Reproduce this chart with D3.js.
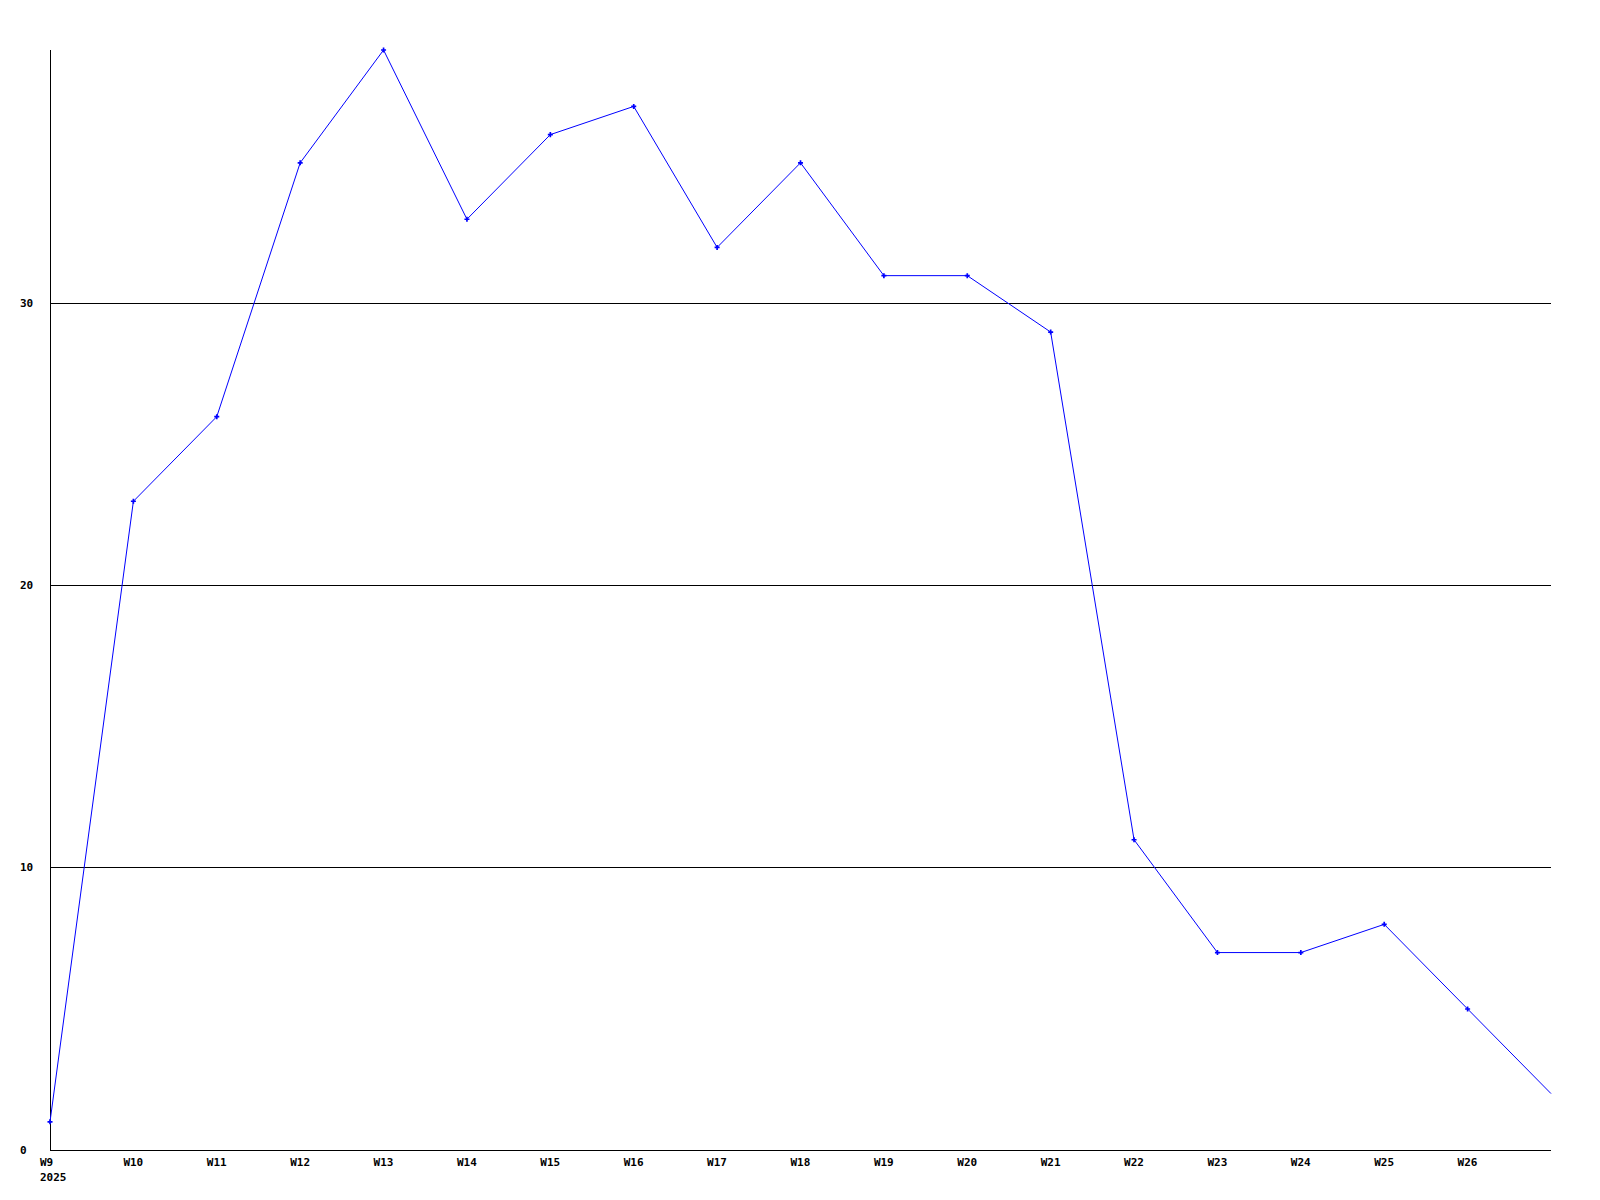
<!DOCTYPE html>
<html><head><meta charset="utf-8">
<script src="https://cdn.jsdelivr.net/npm/d3@7"></script>
<style>body{margin:0;background:#fff}svg{display:block}</style>
</head><body>
<script>
const weeks = ["W9","W10","W11","W12","W13","W14","W15","W16","W17","W18","W19","W20","W21","W22","W23","W24","W25","W26","W27"];
const values = [1,23,26,35,39,33,36,37,32,35,31,31,29,11,7,7,8,5,2];
const shownLabels = ["W9","W10","W11","W12","W13","W14","W15","W16","W17","W18","W19","W20","W21","W22","W23","W24","W25","W26"];
const yearLabel = "2025";
const yTicks = [0,10,20,30];

(function(){
const W=1600,H=1200;
const svg=d3.select("body").append("svg").attr("width",W).attr("height",H);
const mLeft=50,mRight=1551,mTop=50,mBottom=1150;
const x=d3.scalePoint().domain(weeks).range([mLeft,mRight]);
const y=d3.scaleLinear().domain([0,39]).range([mBottom,mTop]);
const font="'DejaVu Sans Mono', monospace";

// grid lines
svg.append("g").selectAll("line").data(yTicks.filter(d=>d>0)).join("line")
  .attr("x1",mLeft).attr("x2",mRight).attr("y1",d=>Math.floor(y(d))+0.5).attr("y2",d=>Math.floor(y(d))+0.5)
  .attr("stroke","#000").attr("stroke-width",1);
// axes
svg.append("line").attr("x1",mLeft+0.5).attr("x2",mLeft+0.5).attr("y1",mTop).attr("y2",mBottom).attr("stroke","#000");
svg.append("line").attr("x1",mLeft).attr("x2",mRight).attr("y1",mBottom+0.5).attr("y2",mBottom+0.5).attr("stroke","#000");

// y labels
svg.append("g").selectAll("text").data(yTicks).join("text")
  .attr("x",20).attr("y",d=>Math.floor(y(d))+4)
  .attr("font-family",font).attr("font-size",11).attr("font-weight","bold")
  .text(d=>d);
// x labels
svg.append("g").selectAll("text").data(shownLabels).join("text")
  .attr("x",d=>x(d)-10).attr("y",mBottom+16)
  .attr("font-family",font).attr("font-size",11).attr("font-weight","bold")
  .text(d=>d);
svg.append("text").attr("x",x(weeks[0])-10).attr("y",mBottom+31)
  .attr("font-family",font).attr("font-size",11).attr("font-weight","bold").text(yearLabel);

// line
const line=d3.line().x((d,i)=>x(weeks[i])).y(d=>y(d));
svg.append("path").datum(values).attr("d",line).attr("fill","none").attr("stroke","#0000ff").attr("stroke-width",1);
svg.append("g").selectAll("path").data(values.slice(0,values.length-1)).join("path")
  .attr("d",d3.symbol(d3.symbolCross,14)())
  .attr("transform",(d,i)=>`translate(${x(weeks[i])},${y(d)})`)
  .attr("fill","#0000ff");
})();
</script>
</body></html>
